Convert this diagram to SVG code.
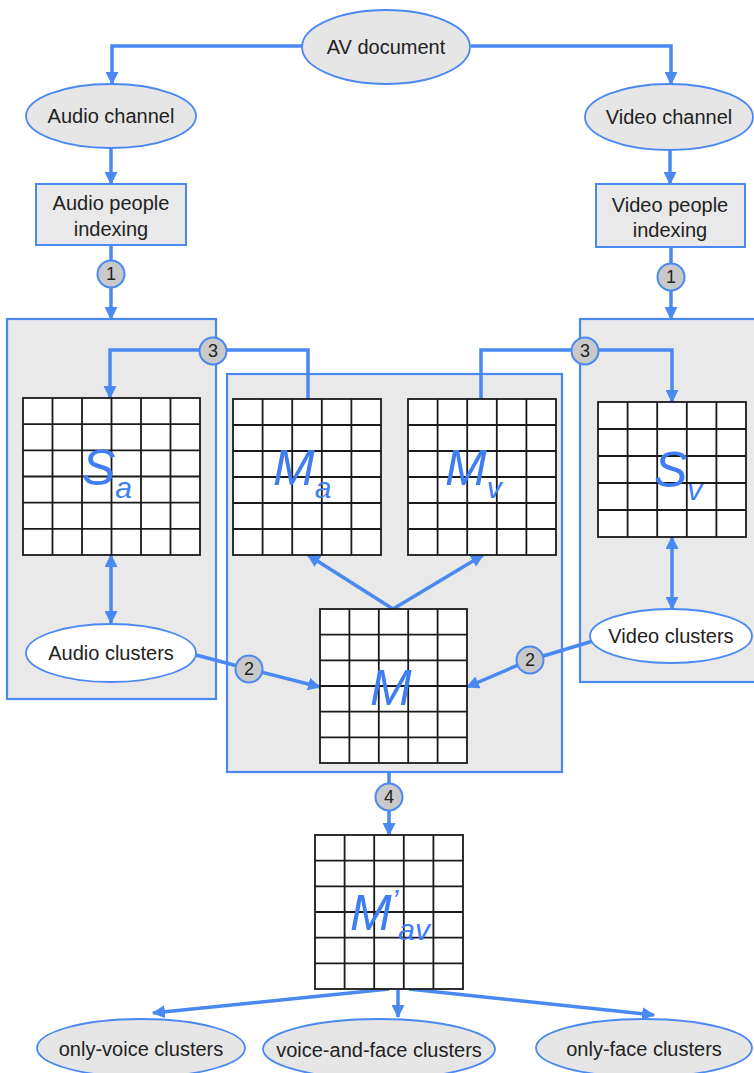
<svg xmlns="http://www.w3.org/2000/svg" width="754" height="1073" viewBox="0 0 754 1073">
<style>
.panel{fill:#e9e9e9;stroke:#4a88f2;stroke-width:2.2}
.ell{fill:#e6e6e6;stroke:#4a88f2;stroke-width:1.8}
.wel{fill:#ffffff;stroke:#4a88f2;stroke-width:1.8}
.box{fill:#e9e9e9;stroke:#4a88f2;stroke-width:2}
.lbl{font-family:"Liberation Sans",Arial,sans-serif;font-size:20px;fill:#222;text-anchor:middle}
.num{font-family:"Liberation Sans",Arial,sans-serif;font-size:18px;fill:#222;text-anchor:middle}
.circ{fill:#c9c9c9;stroke:#4a88f2;stroke-width:2}
.grid{fill:#ffffff;stroke:#1a1a1a;stroke-width:1.8}
.gl{fill:none;stroke:#1a1a1a;stroke-width:1.8}
.big{font-family:"Liberation Sans",Arial,sans-serif;font-style:italic;font-size:50px;fill:#3f7ef2}
.sub{font-size:30px}
.con{fill:none;stroke:#4a88f2;stroke-width:3.5}
</style>
<defs>
<marker id="ah" viewBox="0 0 12 12" refX="11" refY="6" markerWidth="13" markerHeight="13" markerUnits="userSpaceOnUse" orient="auto-start-reverse">
<path d="M0,0 L12,6 L0,12 Z" fill="#4a88f2"/>
</marker>
</defs>

<g id="panels">
<rect id="panel-audio" class="panel" x="7" y="319" width="209" height="380"/>
<rect id="panel-middle" class="panel" x="227" y="374" width="335" height="398"/>
<rect id="panel-video" class="panel" x="580" y="319" width="180" height="363"/>
</g>

<g id="connectors">
<path class="con" d="M302,46 H112 V84" marker-end="url(#ah)"/>
<path class="con" d="M471,46 H671 V84" marker-end="url(#ah)"/>
<path class="con" d="M111,148 V184" marker-end="url(#ah)"/>
<path class="con" d="M670,150 V184" marker-end="url(#ah)"/>
<path class="con" d="M111,245 V319" marker-end="url(#ah)"/>
<path class="con" d="M671,247 V319" marker-end="url(#ah)"/>
<path class="con" d="M213,350 H110 V398" marker-end="url(#ah)"/>
<path class="con" d="M213,350 H308 V399"/>
<path class="con" d="M585,350 H481 V399"/>
<path class="con" d="M585,350 H672 V402" marker-end="url(#ah)"/>
<path class="con" d="M111,555 V623" marker-start="url(#ah)" marker-end="url(#ah)"/>
<path class="con" d="M672,537 V609" marker-start="url(#ah)" marker-end="url(#ah)"/>
<path class="con" d="M196,655 L249,669 L320,687" marker-end="url(#ah)"/>
<path class="con" d="M593,641 L530,660 L467,687" marker-end="url(#ah)"/>
<path class="con" d="M393,609 L308,555" marker-end="url(#ah)"/>
<path class="con" d="M393,609 L483,555" marker-end="url(#ah)"/>
<path class="con" d="M389,772 V835" marker-end="url(#ah)"/>
<path class="con" d="M389,989 L153,1013" marker-end="url(#ah)"/>
<path class="con" d="M398,990 V1017" marker-end="url(#ah)"/>
<path class="con" d="M409,989 L654,1015" marker-end="url(#ah)"/>
</g>

<g id="av-document">
<ellipse class="ell" cx="386" cy="47" rx="84" ry="37"/>
<text class="lbl" x="386" y="54">AV document</text>
</g>
<g id="audio-channel">
<ellipse class="ell" cx="111" cy="116" rx="85" ry="32"/>
<text class="lbl" x="111" y="123">Audio channel</text>
</g>
<g id="video-channel">
<ellipse class="ell" cx="669" cy="117" rx="84" ry="33"/>
<text class="lbl" x="669" y="124">Video channel</text>
</g>
<g id="audio-indexing">
<rect class="box" x="36" y="184" width="150" height="61"/>
<text class="lbl" x="111" y="210">Audio people</text>
<text class="lbl" x="111" y="236">indexing</text>
</g>
<g id="video-indexing">
<rect class="box" x="596" y="184" width="149" height="63"/>
<text class="lbl" x="670" y="212">Video people</text>
<text class="lbl" x="670" y="237">indexing</text>
</g>

<g id="step1-audio"><circle class="circ" cx="111" cy="274" r="13.5"/><text class="num" x="111" y="280">1</text></g>
<g id="step1-video"><circle class="circ" cx="671" cy="277" r="13.5"/><text class="num" x="671" y="283">1</text></g>
<g id="step3-audio"><circle class="circ" cx="213" cy="351" r="13.5"/><text class="num" x="213" y="357">3</text></g>
<g id="step3-video"><circle class="circ" cx="585" cy="351" r="13.5"/><text class="num" x="585" y="357">3</text></g>
<g id="step2-audio"><circle class="circ" cx="249" cy="669" r="13.5"/><text class="num" x="249" y="675">2</text></g>
<g id="step2-video"><circle class="circ" cx="530" cy="660" r="13.5"/><text class="num" x="530" y="666">2</text></g>
<g id="step4"><circle class="circ" cx="389" cy="797" r="13.5"/><text class="num" x="389" y="803">4</text></g>

<g id="matrix-Sa">
<rect class="grid" x="23" y="398" width="177" height="157"/>
<path class="gl" d="M52.5,398V555M82,398V555M111.5,398V555M141,398V555M170.5,398V555M23,424.2H200M23,450.3H200M23,476.5H200M23,502.7H200M23,528.8H200"/>
<text class="big" x="82" y="485">S<tspan class="sub" dy="13">a</tspan></text>
</g>
<g id="matrix-Ma">
<rect class="grid" x="233" y="399" width="148" height="156"/>
<path class="gl" d="M262.6,399V555M292.2,399V555M321.8,399V555M351.4,399V555M233,425H381M233,451H381M233,477H381M233,503H381M233,529H381"/>
<text class="big" x="273" y="485">M<tspan class="sub" dy="13">a</tspan></text>
</g>
<g id="matrix-Mv">
<rect class="grid" x="408" y="399" width="148" height="156"/>
<path class="gl" d="M437.6,399V555M467.2,399V555M496.8,399V555M526.4,399V555M408,425H556M408,451H556M408,477H556M408,503H556M408,529H556"/>
<text class="big" x="445" y="485">M<tspan class="sub" dy="13">v</tspan></text>
</g>
<g id="matrix-Sv">
<rect class="grid" x="598" y="402" width="148" height="135"/>
<path class="gl" d="M627.6,402V537M657.2,402V537M686.8,402V537M716.4,402V537M598,429H746M598,456H746M598,483H746M598,510H746"/>
<text class="big" x="654" y="487">S<tspan class="sub" dy="13">v</tspan></text>
</g>
<g id="audio-clusters">
<ellipse class="wel" cx="111" cy="653" rx="85" ry="29"/>
<text class="lbl" x="111" y="660">Audio clusters</text>
</g>
<g id="video-clusters">
<ellipse class="wel" cx="671" cy="636" rx="81" ry="27"/>
<text class="lbl" x="671" y="643">Video clusters</text>
</g>
<g id="matrix-M">
<rect class="grid" x="320" y="609" width="147" height="154"/>
<path class="gl" d="M349.4,609V763M378.8,609V763M408.2,609V763M437.6,609V763M320,634.7H467M320,660.3H467M320,686H467M320,711.7H467M320,737.3H467"/>
<text class="big" x="370" y="705">M</text>
</g>
<g id="matrix-Mav">
<rect class="grid" x="315" y="835" width="148" height="154"/>
<path class="gl" d="M344.6,835V989M374.2,835V989M403.8,835V989M433.4,835V989M315,860.7H463M315,886.3H463M315,912H463M315,937.7H463M315,963.3H463"/>
<text class="big" x="350" y="930">M<tspan class="sub" dy="-20">’</tspan><tspan class="sub" dy="30">av</tspan></text>
</g>

<g id="only-voice">
<ellipse class="ell" cx="141" cy="1048" rx="104" ry="29"/>
<text class="lbl" x="141" y="1056">only-voice clusters</text>
</g>
<g id="voice-and-face">
<ellipse class="ell" cx="379" cy="1049" rx="116" ry="30"/>
<text class="lbl" x="379" y="1057">voice-and-face clusters</text>
</g>
<g id="only-face">
<ellipse class="ell" cx="644" cy="1048" rx="108" ry="29"/>
<text class="lbl" x="644" y="1056">only-face clusters</text>
</g>
</svg>
